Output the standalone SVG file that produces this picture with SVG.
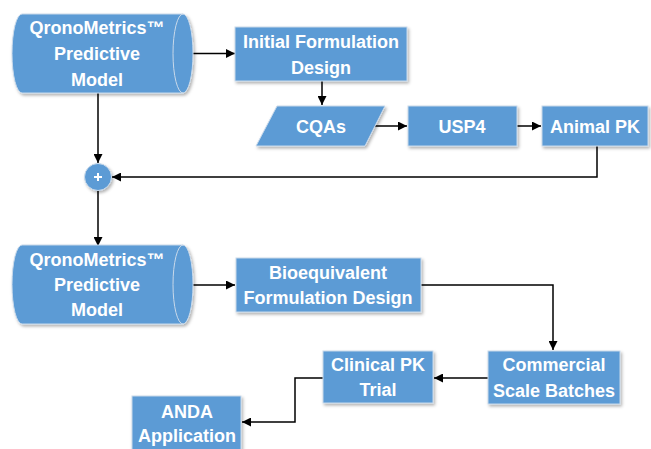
<svg xmlns="http://www.w3.org/2000/svg" width="651" height="449" viewBox="0 0 651 449">
<style>
.n{fill:#5B9BD5;stroke:#C9D9EA;stroke-width:1;filter:url(#sh)}
.cap{fill:none;stroke:#C9D9EA;stroke-width:1}
.t{font-family:"Liberation Sans",Arial,sans-serif;font-weight:bold;font-size:18px;fill:#FFFFFF;text-anchor:middle}
.c{fill:none;stroke:#000;stroke-width:1.5;marker-end:url(#ah)}
</style>
<defs>
<filter id="sh" x="-10%" y="-10%" width="130%" height="140%">
<feDropShadow dx="1.5" dy="2" stdDeviation="1.5" flood-color="#000" flood-opacity="0.3"/>
</filter>
<marker id="ah" viewBox="0 0 10 10" refX="10" refY="5" markerWidth="10" markerHeight="9" markerUnits="userSpaceOnUse" orient="auto">
<path d="M0,0 L10,5 L0,10 z" fill="#000"/>
</marker>
</defs>
<g id="connectors">
<path class="c" d="M193,53.5 H235"/>
<path class="c" d="M322,81 V105"/>
<path class="c" d="M375,126 H407"/>
<path class="c" d="M517,126 H541"/>
<path class="c" d="M597,146 V177 H112"/>
<path class="c" d="M98,93 V163"/>
<path class="c" d="M98,190 V246"/>
<path class="c" d="M183,285 H235"/>
<path class="c" d="M421,285 H553 V350"/>
<path class="c" d="M488,378 H434"/>
<path class="c" d="M323,378 H295 V422 H242"/>
</g>
<g id="model1">
<path class="n" d="M22,14 H183 A10,39.5 0 0 1 183,93 H22 A10,39.5 0 0 1 22,14 Z"/>
<path class="cap" d="M183,14 A10,39.5 0 0 0 183,93"/>
<text class="t" x="97" y="34">QronoMetrics™</text>
<text class="t" x="97" y="60">Predictive</text>
<text class="t" x="97" y="86">Model</text>
</g>
<g id="initial">
<rect class="n" x="235" y="27" width="172" height="54"/>
<text class="t" x="321" y="48">Initial Formulation</text>
<text class="t" x="321" y="74">Design</text>
</g>
<g id="cqas">
<path class="n" d="M277,106 H385 L365,146 H256 Z"/>
<text class="t" x="321" y="133">CQAs</text>
</g>
<g id="usp4">
<rect class="n" x="408" y="106" width="109" height="40"/>
<text class="t" x="462" y="133">USP4</text>
</g>
<g id="animalpk">
<rect class="n" x="542" y="106" width="106" height="40"/>
<text class="t" x="595" y="133">Animal PK</text>
</g>
<g id="plus">
<circle class="n" cx="98" cy="177" r="13.5" stroke="none"/>
<path d="M94,177 H102 M98,173 V181" stroke="#FFFFFF" stroke-width="2"/>
</g>
<g id="model2">
<path class="n" d="M22,245 H183 A10,39.5 0 0 1 183,324 H22 A10,39.5 0 0 1 22,245 Z"/>
<path class="cap" d="M183,245 A10,39.5 0 0 0 183,324"/>
<text class="t" x="97" y="266">QronoMetrics™</text>
<text class="t" x="97" y="291">Predictive</text>
<text class="t" x="97" y="316">Model</text>
</g>
<g id="bioequivalent">
<rect class="n" x="236" y="258" width="185" height="54"/>
<text class="t" x="328" y="279">Bioequivalent</text>
<text class="t" x="328" y="304">Formulation Design</text>
</g>
<g id="commercial">
<rect class="n" x="488" y="351" width="132" height="53"/>
<text class="t" x="554" y="371">Commercial</text>
<text class="t" x="554" y="397">Scale Batches</text>
</g>
<g id="clinical">
<rect class="n" x="323" y="351" width="110" height="52"/>
<text class="t" x="378" y="371">Clinical PK</text>
<text class="t" x="378" y="396">Trial</text>
</g>
<g id="anda">
<rect class="n" x="132" y="396" width="109" height="60"/>
<text class="t" x="187" y="418">ANDA</text>
<text class="t" x="187" y="442">Application</text>
</g>
</svg>
